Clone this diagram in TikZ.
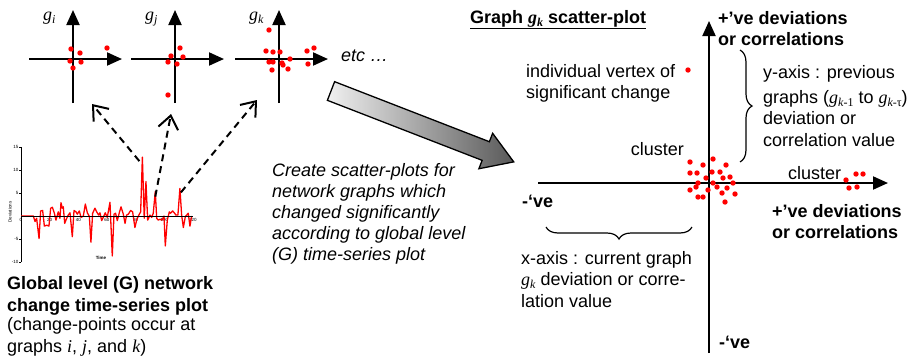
\documentclass[tikz,border=0pt]{standalone}
\usepackage{fontspec}
\setmainfont{Liberation Sans}
\newfontfamily\tms{Liberation Serif}
\usetikzlibrary{arrows.meta,decorations.pathreplacing}

\newcommand{\gsub}[1]{{\tms\itshape g\/}\raisebox{-0.35ex}{\tms\fontsize{12}{12}\selectfont #1}}

\begin{document}
\begin{tikzpicture}[x=1pt,y=-1pt,
  txt/.style={font=\fontsize{18}{21.5}\selectfont, align=left, inner sep=0pt},
  hdr/.style={font=\fontsize{18}{21.5}\selectfont\bfseries, align=left, inner sep=0pt},
  tiny/.style={font=\fontsize{4.5}{5}\selectfont, inner sep=0.5pt},
  axis/.style={line width=2pt, -{Triangle[length=15pt,width=13pt]}},
  pointer/.style={line width=2pt, dash pattern=on 7pt off 5pt, -{Straight Barb[length=13pt,width=20pt,line width=2pt]}},
  vtx/.style={red},
  brc/.style={line width=1.2pt, decorate, decoration={brace, amplitude=12pt}}]
  \useasboundingbox (0,0) rectangle (916,357);

  % small scatter-plots
  \foreach \ox/\nm in {73/i, 175/j, 279/k} {
    \draw[axis] (\ox,103) -- (\ox,10);
    \draw[axis] (\ox-44,59) -- (\ox+49,59);
    \node[anchor=base west, inner sep=0pt, font=\fontsize{18}{20}\selectfont] at (\ox-30,20.5) {\gsub{\itshape\nm}};
  }
  \foreach \p in {(71,49),(80,53),(107,48),(70,61),(81,62),(73,68),
                  (180,48),(171,56),(183,57),(168,62),(177,64),(168,95),
                  (269,30),(266,51),(273,52),(280,52),(307,51),(314,48),(269,62),
                  (273,62),(282,63),(283,65),(290,59),(308,64),(272,70),(288,69)}
    \fill[vtx] \p circle[radius=2.7pt];
  \node[txt, anchor=base west, font=\fontsize{18}{21.5}\selectfont\itshape] (etc) at (341,61) {etc …};

  % time-series plot
  \begin{scope}[shift={(21,216)}, x=1.433pt, y=4.6pt]
    \draw[line width=0.8pt] (0,-10) -- (0,15);
    \foreach \v in {-10,-5,5,10,15} {
      \draw[line width=0.5pt] (0,\v) -- (-1.2,\v);
      \node[tiny, anchor=east] at (-1.3,\v) {\v};
    }
    \foreach \t in {0,20,...,120}
      \node[tiny, anchor=north] at (\t,-0.3) {\t};
    \draw[red, line width=1.3pt, line join=round] (0,0) -- (8.6,0) -- (9.8,-1.2) -- (10.9,-0.5) -- (12.6,-4.9)
      -- (13.7,1.1) -- (15.1,1.2) -- (16.3,-2.2) -- (17.9,-2.0) -- (19.5,-2.2) -- (20.7,1.7) -- (21.9,1.9)
      -- (23.3,0.6) -- (24.4,-0.9) -- (26,0.9) -- (27.2,-0.5) -- (27.9,2.9) -- (28.8,1.7) -- (29.5,2.0)
      -- (30.5,-1.6) -- (31.9,-0.5) -- (33,0.2) -- (34.2,0.7) -- (35.8,-4.5) -- (37,1.2) -- (38.4,0.9)
      -- (39.3,0.4) -- (40.7,1.1) -- (41.9,-0.3) -- (43.5,0) -- (44.9,2.6) -- (46.3,0.7) -- (47.7,-0.1)
      -- (48.8,-5.7) -- (50,0.6) -- (51.6,1.7) -- (52.8,0.9) -- (54.2,0.2) -- (55.1,0.7) -- (56.3,-1.0)
      -- (57.4,-0.3) -- (58.8,0.7) -- (60.2,-0.3) -- (62.1,3.0) -- (63.7,-8.7) -- (64.9,0.4) -- (66,0.6)
      -- (67.2,-1.0) -- (68.6,0.7) -- (69.8,2.0) -- (71.4,0.4) -- (72.6,-1.6) -- (73.7,0.2) -- (74.9,0.4)
      -- (76.5,1.2) -- (77.9,0.9) -- (79.5,-2.5) -- (80.7,-0.9) -- (81.9,0) -- (83.5,0.9) -- (84.7,12.8)
      -- (86,-0.5) -- (87.2,7.5) -- (88.4,-0.9) -- (90,0.2) -- (91.2,-0.3) -- (92.3,0.6) -- (93.7,5.3)
      -- (94.7,-0.5) -- (95.8,-0.9) -- (97,-0.7) -- (98.4,-0.9) -- (99.8,0) -- (100.7,-6.5) -- (102.1,-0.9)
      -- (103.5,0.9) -- (104.4,0.6) -- (105.8,1.1) -- (107.2,0.6) -- (108.1,0.2) -- (109.5,0.2) -- (110.9,6.0)
      -- (112.1,0.2) -- (113.3,-2.5) -- (114.7,-0.1) -- (115.6,0.2) -- (116.7,0.6) -- (117.9,-2.2) -- (119.1,0);
    \draw[line width=0.7pt] (0,0) -- (120,0);
    \coordinate (spikei) at (84.7,12.8);
    \coordinate (spikej) at (93.7,5.3);
    \coordinate (spikek) at (110.9,6.0);
  \end{scope}
  \node[tiny, rotate=90] (devlbl) at (10,212) {Deviations};
  \node[tiny, font=\fontsize{4.5}{5}\selectfont\bfseries] (timelbl) at (101,258) {Time};

  \coordinate (tipi) at (92,104);
  \coordinate (tipj) at (171,114);
  \coordinate (tipk) at (257,100);
  \draw[pointer] ([shift={(-3,4)}]spikei) -- (tipi);
  \draw[pointer] ([shift={(0,5)}]spikej) -- (tipj);
  \draw[pointer] ([shift={(1,4)}]spikek) -- (tipk);

  \node[hdr, anchor=base west] (global) at (7,311) {Global level (G) network\\change time-series plot};
  \node[txt, anchor=base west] (cpts) at (7,352) {(change-points occur at\\graphs {\tms\itshape i}, {\tms\itshape j}, and {\tms\itshape k})};

  % big arrow
  \begin{scope}[shift={(331,91)}, rotate=-21.2]
    \draw[line width=1.3pt, left color=gray!12, right color=black!65]
      (0,-10) -- (166,-10) -- (166,-19) -- (196,0) -- (166,19) -- (166,10) -- (0,10) -- cycle;
  \end{scope}
  \node[txt, anchor=base west, font=\fontsize{18}{21}\selectfont\itshape] (create) at (272,260)
    {Create scatter-plots for\\network graphs which\\changed significantly\\according to global level\\(G) time-series plot};

  % scatter-plot of g_k
  \node[hdr, anchor=base west] (title) at (470,23) {\underline{Graph \gsub{\itshape k} scatter-plot}};
  \draw[axis] (709,353) -- (709,21);
  \draw[axis] (538,183) -- (888,183);
  \foreach \p in {(690,162),(703,165),(713,159),(726,165),(690,173),(697,173),(712,172),(720,172),
                  (706,178),(723,178),(730,177),(698,183),(713,183),(733,183),(690,190),(696,187),
                  (708,190),(717,187),(722,193),(727,188),(735,194),(698,197),(703,197),(725,202),
                  (846,180),(856,174),(863,174),(849,188),(857,187),(688,70)}
    \fill[vtx] \p circle[radius=2.7pt];
  \node[hdr, anchor=base west] (ytop) at (718,45.5) {+’ve deviations\\or correlations};
  \node[hdr, anchor=base west] (xright) at (772,238.5) {+’ve deviations\\or correlations};
  \node[hdr, anchor=base west] (xleft) at (522,207) {-‘ve};
  \node[hdr, anchor=base west] (ybot) at (719,348) {-‘ve};
  \node[txt, anchor=base west] (indiv) at (526,98.5) {individual vertex of\\significant change};
  \node[txt, anchor=base east] (clusl) at (684,155) {cluster};
  \node[txt, anchor=base west] (clusr) at (788,179) {cluster};
  \draw[brc] (740,50) -- (740,162);
  \node[txt, anchor=base west] (ytxt) at (763,146)
    {y-axis : previous\\[3.5pt]graphs (\gsub{\itshape k\upshape -1} to \gsub{\itshape k\upshape -τ})\\deviation or\\correlation value};
  \draw[brc] (692,227) -- (546,227);
  \node[txt, anchor=base west] (xtxt) at (521,307)
    {x-axis : current graph\\\gsub{\itshape k} deviation or corre-\\lation value};
\end{tikzpicture}
\end{document}
